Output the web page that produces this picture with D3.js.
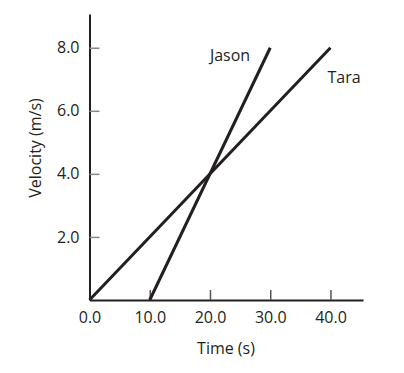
<!DOCTYPE html>
<html>
<head>
<meta charset="utf-8">
<script src="https://cdn.jsdelivr.net/npm/d3@7"></script>
<style>
  body { margin: 0; background: #fff; }
  svg text { font-family: "Open Sans", "Noto Sans", sans-serif; fill: #231f20; }
</style>
</head>
<body>
<div id="chart"></div>
<script>
// data
const seriesNames = ['Jason', 'Tara'];
const jasonTime = [10, 30];
const jasonVelocity = [0, 8];
const taraTime = [0, 40];
const taraVelocity = [0, 8];
const xTicks = [0, 10, 20, 30, 40];
const yTicks = [2, 4, 6, 8];

const width = 404, height = 373;
const fontSize = '16px';
const svg = d3.select('#chart').append('svg')
  .attr('width', width)
  .attr('height', height);

const x = d3.scaleLinear().domain([0, 45.4]).range([89.5, 363]);
const y = d3.scaleLinear().domain([0, 9.07]).range([300, 14]);

const ink = '#231f20';

// x axis: ticks point up into the plot
const xAxis = svg.append('g')
  .attr('transform', `translate(0,${y(0)})`)
  .call(d3.axisBottom(x).tickValues(xTicks).tickFormat(d3.format('.1f')).tickSize(0).tickPadding(12));
xAxis.select('.domain').attr('stroke', ink).attr('stroke-width', 2);
xAxis.selectAll('.tick text').style('font-size', fontSize);
xAxis.selectAll('.tick').filter(d => d !== 0).append('line')
  .attr('y1', 0).attr('y2', -10)
  .attr('stroke', '#555').attr('stroke-width', 1.5);

// y axis: ticks point right into the plot
const yAxis = svg.append('g')
  .attr('transform', `translate(${x(0)},0)`)
  .call(d3.axisLeft(y).tickValues(yTicks).tickFormat(d3.format('.1f')).tickSize(0).tickPadding(10));
yAxis.select('.domain').attr('stroke', ink).attr('stroke-width', 2);
yAxis.selectAll('.tick text').style('font-size', fontSize);
yAxis.selectAll('.tick').append('line')
  .attr('x1', 0).attr('x2', 10)
  .attr('stroke', '#888').attr('stroke-width', 1.5);

// axis titles
svg.append('text')
  .attr('x', 226).attr('y', 354)
  .attr('text-anchor', 'middle')
  .style('font-size', fontSize)
  .text('Time (s)');

svg.append('text')
  .attr('transform', `translate(41,148) rotate(-90)`)
  .attr('text-anchor', 'middle')
  .style('font-size', fontSize)
  .text('Velocity (m/s)');

// lines
const line = d3.line().x(d => x(d[0])).y(d => y(d[1]));
const series = [
  { name: seriesNames[0], pts: d3.zip(jasonTime, jasonVelocity) },
  { name: seriesNames[1], pts: d3.zip(taraTime, taraVelocity) }
];
svg.selectAll('.series')
  .data(series)
  .join('path')
  .attr('class', 'series')
  .attr('d', d => line(d.pts))
  .attr('fill', 'none')
  .attr('stroke', ink)
  .attr('stroke-width', 3);

// series labels
svg.append('text')
  .attr('x', 230).attr('y', 61)
  .attr('text-anchor', 'middle')
  .style('font-size', fontSize)
  .text(seriesNames[0]);
svg.append('text')
  .attr('x', 344).attr('y', 83)
  .attr('text-anchor', 'middle')
  .style('font-size', fontSize)
  .text(seriesNames[1]);
</script>
</body>
</html>
